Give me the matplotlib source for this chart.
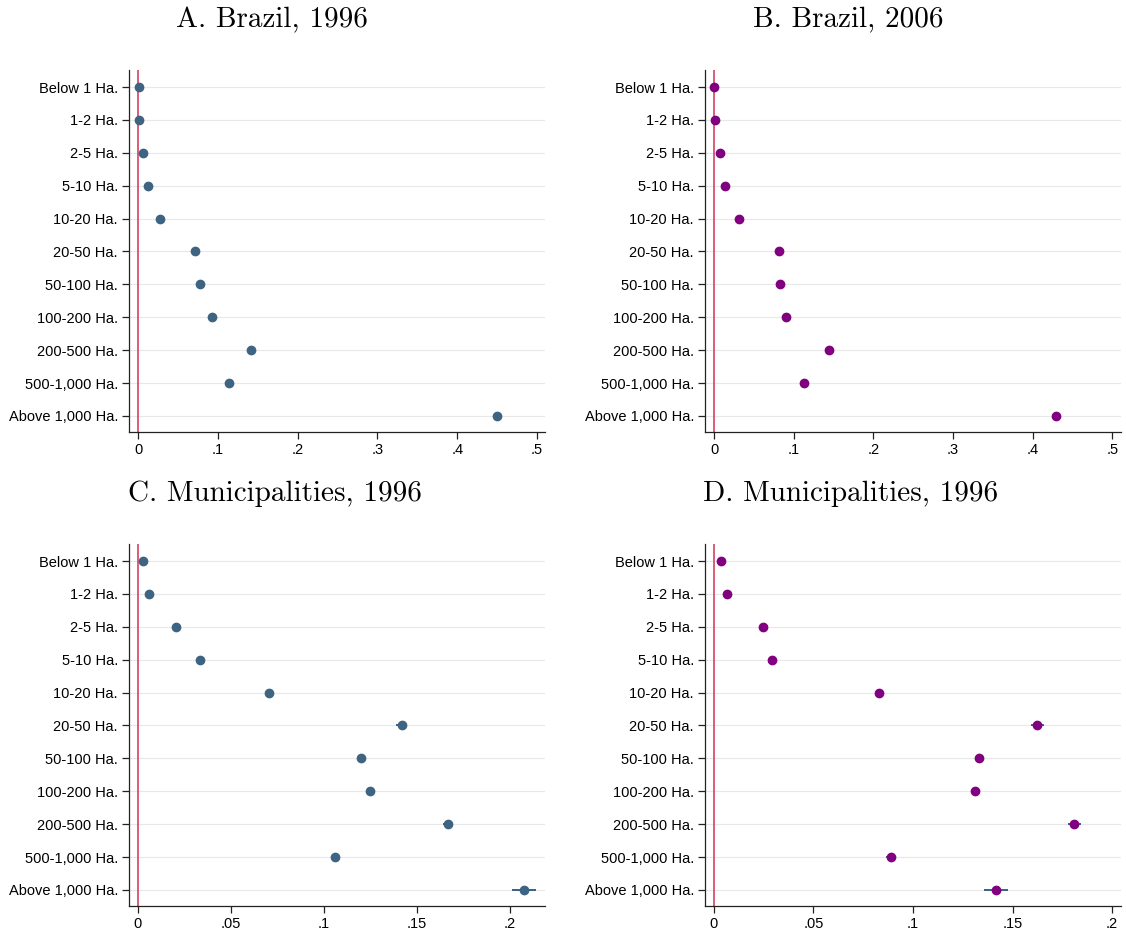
import matplotlib
matplotlib.use("Agg")
import matplotlib.pyplot as plt
import numpy as np

categories = ["Below 1 Ha.", "1-2 Ha.", "2-5 Ha.", "5-10 Ha.", "10-20 Ha.", "20-50 Ha.",
              "50-100 Ha.", "100-200 Ha.", "200-500 Ha.", "500-1,000 Ha.", "Above 1,000 Ha."]

brazil_1996 = [0.001, 0.001, 0.006, 0.0125, 0.0275, 0.071, 0.078, 0.093, 0.142, 0.114, 0.450]
brazil_2006 = [0.0005, 0.001, 0.0075, 0.014, 0.031, 0.081, 0.083, 0.091, 0.144, 0.113, 0.429]
muni_c = [0.0027, 0.0059, 0.0204, 0.0333, 0.0704, 0.142, 0.120, 0.125, 0.167, 0.106, 0.2075]
muni_c_err = [0.0003, 0.0004, 0.0006, 0.0008, 0.0012, 0.0030, 0.0015, 0.0015, 0.0027, 0.0015, 0.0065]
muni_d = [0.0035, 0.0065, 0.0246, 0.029, 0.0827, 0.1625, 0.133, 0.131, 0.181, 0.089, 0.1415]
muni_d_err = [0.0003, 0.0004, 0.0006, 0.0008, 0.0015, 0.0033, 0.0015, 0.0015, 0.0033, 0.0025, 0.0060]

titles = ["A. Brazil, 1996", "B. Brazil, 2006", "C. Municipalities, 1996", "D. Municipalities, 1996"]
ticks_ab = [0, 0.1, 0.2, 0.3, 0.4, 0.5]
ticklabels_ab = ["0", ".1", ".2", ".3", ".4", ".5"]
ticks_cd = [0, 0.05, 0.1, 0.15, 0.2]
ticklabels_cd = ["0", ".05", ".1", ".15", ".2"]

W, H = 1126, 934
fig = plt.figure(figsize=(W / 100, H / 100), dpi=100)

blue = "#3e6482"
purple = "#800080"
navy = "#1a476f"
red = "#d6506e"

panels = [
    dict(box=(129, 545, 70, 432), vals=brazil_1996, err=None, color=blue, xlim=(-0.0113, 0.510),
         ticks=ticks_ab, labels=ticklabels_ab, title=titles[0], tx=272, ty=20),
    dict(box=(705, 1121, 70, 432), vals=brazil_2006, err=None, color=purple, xlim=(-0.0113, 0.511),
         ticks=ticks_ab, labels=ticklabels_ab, title=titles[1], tx=848, ty=20),
    dict(box=(129, 545, 544, 906), vals=muni_c, err=muni_c_err, color=blue, xlim=(-0.0048, 0.219),
         ticks=ticks_cd, labels=ticklabels_cd, title=titles[2], tx=275, ty=494),
    dict(box=(705, 1121, 544, 906), vals=muni_d, err=muni_d_err, color=purple, xlim=(-0.0045, 0.2045),
         ticks=ticks_cd, labels=ticklabels_cd, title=titles[3], tx=851, ty=494),
]

ypos = np.arange(len(categories))
for p in panels:
    l, r, t, b = p["box"]
    ax = fig.add_axes([l / W, 1 - b / H, (r - l) / W, (b - t) / H])
    for y in ypos:
        ax.axhline(y, color="#e8e8e8", lw=0.8, zorder=0)
    ax.axvline(0, color=red, lw=1.3, zorder=1)
    if p["err"] is not None:
        ax.errorbar(p["vals"], ypos, xerr=p["err"], fmt="none", ecolor=navy, elinewidth=1.2,
                    capsize=0, zorder=2)
    ax.plot(p["vals"], ypos, "o", color=p["color"], ms=6, mec=p["color"], zorder=3, clip_on=False)
    ax.set_ylim(10.49, -0.52)
    ax.set_xlim(*p["xlim"])
    ax.set_yticks(ypos)
    ax.set_yticklabels(categories, fontsize=10.5, family="Liberation Sans")
    ax.set_xticks(p["ticks"])
    ax.set_xticklabels(p["labels"], fontsize=10.5, family="Liberation Sans")
    ax.tick_params(axis="both", direction="out", length=5, width=0.9, color="#222222", pad=3)
    for s in ["top", "right"]:
        ax.spines[s].set_visible(False)
    for s in ["left", "bottom"]:
        ax.spines[s].set_color("#222222")
        ax.spines[s].set_linewidth(0.9)
    fig.text(p["tx"] / W, 1 - p["ty"] / H, p["title"], ha="center", va="center",
             fontsize=21, family="cmr10")

fig.savefig("out.png", dpi=100, facecolor="white")
